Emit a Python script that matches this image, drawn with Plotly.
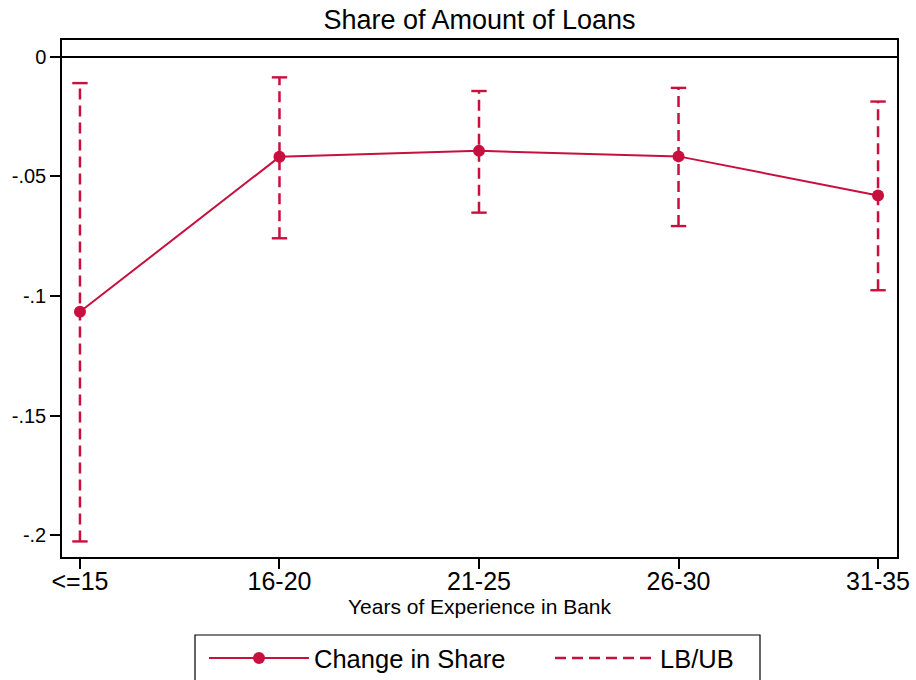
import plotly.graph_objects as go

categories = ["<=15", "16-20", "21-25", "26-30", "31-35"]
change_in_share = [-0.1066, -0.0419, -0.0394, -0.0417, -0.0580]
lower_bound = [-0.2025, -0.0759, -0.0652, -0.0708, -0.0976]
upper_bound = [-0.0111, -0.0087, -0.0144, -0.0131, -0.0188]

ytick_vals = [0, -0.05, -0.1, -0.15, -0.2]
ytick_text = ["0", "-.05", "-.1", "-.15", "-.2"]

title_text = "Share of Amount of Loans"
xaxis_title = "Years of Experience in Bank"
series_names = ["Change in Share", "LB/UB"]

color = "#C8103E"
font_family = "Arial, Liberation Sans, sans-serif"

W, H = 916, 680
ML, MR, MT, MB = 62, 19, 40, 123
PW, PH = W - ML - MR, H - MT - MB


def px_to_paper_x(px):
    return (px - ML) / PW


def px_to_paper_y(py):
    return (H - MB - py) / PH


# Build CI segments (dashed vertical lines) from data
ci_x, ci_y = [], []
for c, lo, hi in zip(categories, lower_bound, upper_bound):
    ci_x += [c, c, None]
    ci_y += [lo, hi, None]

cap_x, cap_y = [], []
for c, lo, hi in zip(categories, lower_bound, upper_bound):
    cap_x += [c, c]
    cap_y += [lo, hi]

fig = go.Figure()

fig.add_trace(go.Scatter(
    x=ci_x, y=ci_y, mode="lines", name=series_names[1],
    line=dict(color=color, width=2.5, dash="11px,6px"),
    legendrank=2, legendgroup="ci", hoverinfo="skip", legendwidth=80,
))
fig.add_trace(go.Scatter(
    x=cap_x, y=cap_y, mode="markers", showlegend=False, legendgroup="ci",
    marker=dict(symbol="line-ew", size=11, line=dict(color=color, width=2.4)),
    hoverinfo="skip",
))
fig.add_trace(go.Scatter(
    x=categories, y=change_in_share, mode="lines+markers", name=series_names[0],
    line=dict(color=color, width=2),
    marker=dict(color=color, size=12),
    legendrank=1,
))

fig.update_layout(
    width=W, height=H,
    margin=dict(l=ML, r=MR, t=MT, b=MB, autoexpand=False),
    paper_bgcolor="white", plot_bgcolor="white",
    font=dict(family=font_family, color="black"),
    title=dict(text=title_text, x=0.5, xref="paper", xanchor="center",
               y=1 - 20 / H, yref="container", yanchor="middle",
               font=dict(size=27, color="black")),
    showlegend=True,
    legend=dict(
        orientation="h", x=px_to_paper_x(204), xanchor="left",
        y=px_to_paper_y(635), yanchor="top",
        borderwidth=0, bgcolor="rgba(0,0,0,0)",
        font=dict(size=25.5, color="black"),
        itemwidth=100, entrywidth=231, entrywidthmode="pixels",
        traceorder="normal",
    ),
    shapes=[dict(
        type="rect", xref="paper", yref="paper",
        x0=px_to_paper_x(195), x1=px_to_paper_x(760),
        y0=px_to_paper_y(700), y1=px_to_paper_y(635),
        line=dict(color="black", width=1.2), fillcolor="rgba(0,0,0,0)",
        layer="below",
    )],
)

fig.update_xaxes(
    type="category", categoryorder="array", categoryarray=categories,
    range=[-0.09, 4.095],
    showline=True, mirror=True, linecolor="black", linewidth=1.5,
    ticks="outside", ticklen=10, tickwidth=1.5, tickcolor="black",
    tickfont=dict(size=25, color="black"), ticklabelstandoff=-9,
    showgrid=False, zeroline=False, automargin=False,
    title=dict(text=xaxis_title, font=dict(size=21, color="black"), standoff=0),
)
fig.update_yaxes(
    range=[-0.209, 0.0069],
    tickvals=ytick_vals, ticktext=ytick_text,
    showline=True, mirror=True, linecolor="black", linewidth=1.5,
    ticks="outside", ticklen=10, tickwidth=1.5, tickcolor="black",
    tickfont=dict(size=20, color="black"),
    showgrid=False, automargin=False,
    zeroline=True, zerolinecolor="black", zerolinewidth=1.8,
)

fig.write_html(
    "out.html",
    config={"displayModeBar": False},
    post_script="document.body.style.margin='0px';document.body.style.overflow='hidden';",
)
